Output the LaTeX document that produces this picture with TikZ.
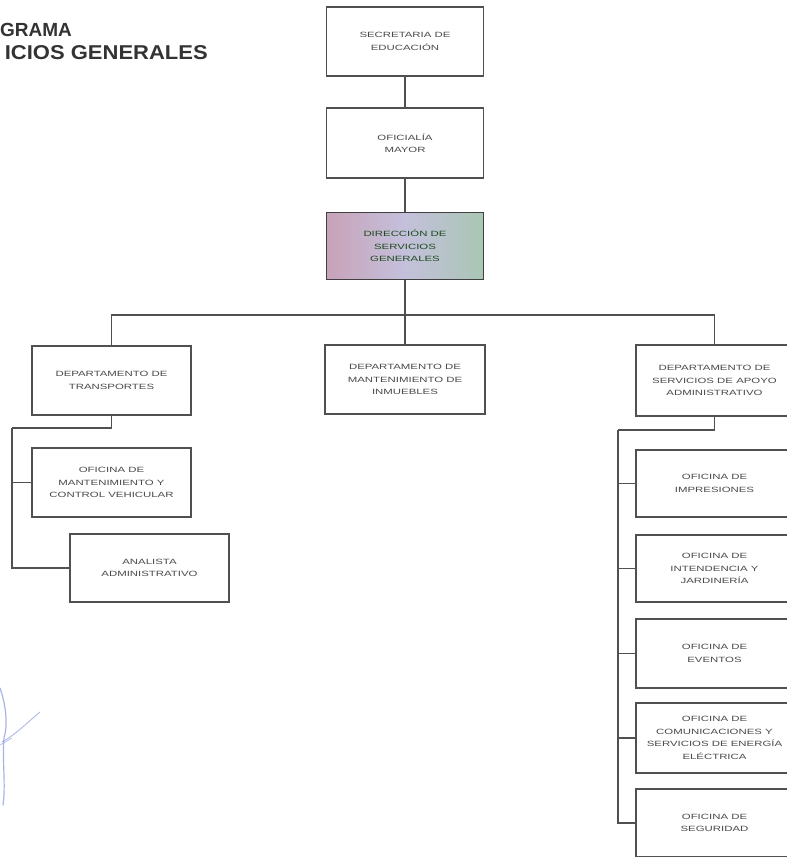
\documentclass[tikz,border=0pt]{standalone}
\usepackage{fontspec}
\setmainfont{Liberation Sans}
\newfontfamily\boxfont[FakeStretch=1.5]{Liberation Sans}
\newfontfamily\headfont[FakeStretch=1.1]{Liberation Sans}
\definecolor{edge}{HTML}{505050}
\definecolor{ink}{HTML}{4A4A4A}
\definecolor{title}{HTML}{333333}
\definecolor{mauve}{HTML}{C8A2B8}
\definecolor{lilac}{HTML}{C4C0DC}
\definecolor{sage}{HTML}{A9C6B4}
\definecolor{pen}{HTML}{8E9AE0}
\tikzset{
  unit/.style={draw=edge, line width=1.3pt, fill=white, inner sep=2pt,
    align=center, text=ink, font=\boxfont\fontsize{7.6}{12.5}\selectfont},
  link/.style={draw=edge, line width=1.3pt},
  heading/.style={text=title, inner sep=0pt}
}
\begin{document}
\begin{tikzpicture}[x=1pt, y=-1pt]
\useasboundingbox (0,0) rectangle (787,857);

% title lines
\node[heading, anchor=west, font=\bfseries\fontsize{19}{24}\selectfont] (t1) at (0,30) {GRAMA};
\node[heading, anchor=east, font=\headfont\bfseries\fontsize{20}{24}\selectfont] (t2) at (208,53) {ICIOS GENERALES};

% top column
\node[unit, minimum width=157pt, minimum height=69pt] (sec) at (405,41.5) {SECRETARIA DE\\EDUCACIÓN};
\node[unit, minimum width=157pt, minimum height=70pt] (ofi) at (405,143) {OFICIALÍA\\MAYOR};
\node[unit, minimum width=157pt, minimum height=67pt, draw=edge!80!black, text=black!70!green!60!ink,
      left color=mauve, right color=sage, middle color=lilac] (dir) at (405,246)
      {DIRECCIÓN DE\\SERVICIOS\\GENERALES};

% departments
\node[unit, minimum width=159pt, minimum height=69pt] (dt) at (111.5,380.5) {DEPARTAMENTO DE\\TRANSPORTES};
\node[unit, minimum width=160pt, minimum height=69pt] (dm) at (405,379.5) {DEPARTAMENTO DE\\MANTENIMIENTO DE\\INMUEBLES};
\node[unit, minimum width=157pt, minimum height=71pt] (ds) at (714.5,380.5) {DEPARTAMENTO DE\\SERVICIOS DE APOYO\\ADMINISTRATIVO};

% transport offices
\node[unit, minimum width=159pt, minimum height=69pt] (omc) at (111.5,482.5) {OFICINA DE\\MANTENIMIENTO Y\\CONTROL VEHICULAR};
\node[unit, minimum width=159pt, minimum height=68pt] (ana) at (149.5,568) {ANALISTA\\ADMINISTRATIVO};

% support offices
\node[unit, minimum width=157pt, minimum height=67pt] (imp) at (714.5,483.5) {OFICINA DE\\IMPRESIONES};
\node[unit, minimum width=157pt, minimum height=67pt] (int) at (714.5,568.5) {OFICINA DE\\INTENDENCIA Y\\JARDINERÍA};
\node[unit, minimum width=157pt, minimum height=69pt] (eve) at (714.5,653.5) {OFICINA DE\\EVENTOS};
\node[unit, minimum width=157pt, minimum height=70pt] (com) at (714.5,738) {OFICINA DE\\COMUNICACIONES Y\\SERVICIOS DE ENERGÍA\\ELÉCTRICA};
\node[unit, minimum width=157pt, minimum height=68pt] (seg) at (714.5,823) {OFICINA DE\\SEGURIDAD};

% junction points
\coordinate (bus) at (405,315);
\coordinate (lj) at (12,428);
\coordinate (rj) at (618,430);

% connectors
\draw[link] (sec) -- (ofi);
\draw[link] (ofi) -- (dir);
\draw[link] (dir) -- (bus);
\draw[link] (dt.north) |- (bus) -| (ds.north);
\draw[link] (bus) -- (dm);
\draw[link] (dt.south) |- (lj);
\draw[link] (lj) |- (omc.west);
\draw[link] (lj) |- (ana.west);
\draw[link] (ds.south) |- (rj);
\draw[link] (rj) |- (imp.west);
\draw[link] (rj) |- (int.west);
\draw[link] (rj) |- (eve.west);
\draw[link] (rj) |- (com.west);
\draw[link] (rj) |- (seg.west);

% pen signature at the lower left
\draw[pen, line width=1.2pt, opacity=0.75, line cap=round]
  (0,688) .. controls (6,705) and (8,725) .. (4,738)
  .. controls (2,760) and (6,785) .. (3,805);
\draw[pen, line width=1pt, opacity=0.65, line cap=round]
  (2,742) .. controls (15,735) and (28,722) .. (40,712);
\draw[pen, line width=0.9pt, opacity=0.55, line cap=round]
  (0,745) -- (12,738);
\end{tikzpicture}
\end{document}
